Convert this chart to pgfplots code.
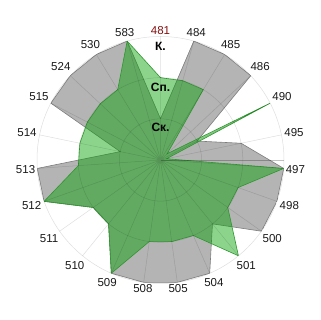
\documentclass[border=0pt]{standalone}
\usepackage{fontspec}
\setmainfont{Liberation Sans}
\usepackage{pgfplots}
\usepgfplotslibrary{polar}
\pgfplotsset{compat=1.18}
\definecolor{grayfill}{RGB}{180,180,180}
\definecolor{grayedge}{RGB}{125,125,125}
\definecolor{greenfill}{RGB}{0,160,0}
\definecolor{greenedge}{RGB}{45,150,45}
\definecolor{lab}{RGB}{25,25,25}
\definecolor{redlab}{RGB}{130,15,15}
\begin{document}
\begin{tikzpicture}
\begin{polaraxis}[
  scale only axis, width=247pt, height=247pt,
  xmin=0, xmax=360, ymin=0, ymax=3,
  xtick={11.739,27.391,43.043,58.696,74.348,90,105.652,121.304,136.957,152.609,168.261,183.913,199.565,215.217,230.870,246.522,262.174,277.826,293.478,309.130,324.783,340.435,356.087},
  xticklabels={495,490,486,485,484,{\textcolor{redlab}{481}},583,530,524,515,514,513,512,511,510,509,508,505,504,501,500,498,497},
  ytick={1,2}, yticklabels={},
  grid=both,
  major grid style={draw=black, draw opacity=0.13, line width=0.5pt},
  axis on top,
  axis line style={draw=black, draw opacity=0.13, line width=0.5pt},
  tick style={draw=none},
  ticklabel style={font=\fontsize{11.5}{13}\selectfont, text=lab, inner sep=2pt},
]
\addplot[fill=grayfill, draw=grayedge, line width=0.6pt] coordinates {
(90,1) (74.348,3) (58.696,3) (43.043,3) (27.391,1) (11.739,2)
(-3.913,3) (-19.565,3) (-35.217,3) (-50.870,2) (-66.522,3) (-82.174,3)
(-97.826,3) (-113.478,3) (-129.130,2) (-144.783,2) (-160.435,3) (-176.087,3)
(-191.739,1) (-207.391,3) (-223.043,3) (-238.696,3) (-254.348,3) (-270,1)
};
\addplot[fill=greenfill, fill opacity=0.45, draw=greenedge, line width=0.6pt] coordinates {
(90,2) (74.348,2) (58.696,2) (43.043,0.22) (27.391,3) (11.739,0.15)
(-3.913,3) (-19.565,2) (-35.217,2) (-50.870,3) (-66.522,2) (-82.174,2)
(-97.826,2) (-113.478,3) (-129.130,2) (-144.783,2) (-160.435,3) (-176.087,2)
(-191.739,2) (-207.391,2) (-223.043,2) (-238.696,2) (-254.348,3) (-270,2)
};
\node[font=\bfseries\fontsize{12}{14}\selectfont, text=black] at (axis cs:90,2.77) {К.};
\node[font=\bfseries\fontsize{12}{14}\selectfont, text=black] at (axis cs:90,1.77) {Сп.};
\node[font=\bfseries\fontsize{12}{14}\selectfont, text=black] at (axis cs:90,0.80) {Ск.};
\coordinate (C) at (axis cs:0,0);
\end{polaraxis}
\path (C) ++(-160.5pt,-160pt) rectangle ++(320pt,320pt);
\end{tikzpicture}
\end{document}
